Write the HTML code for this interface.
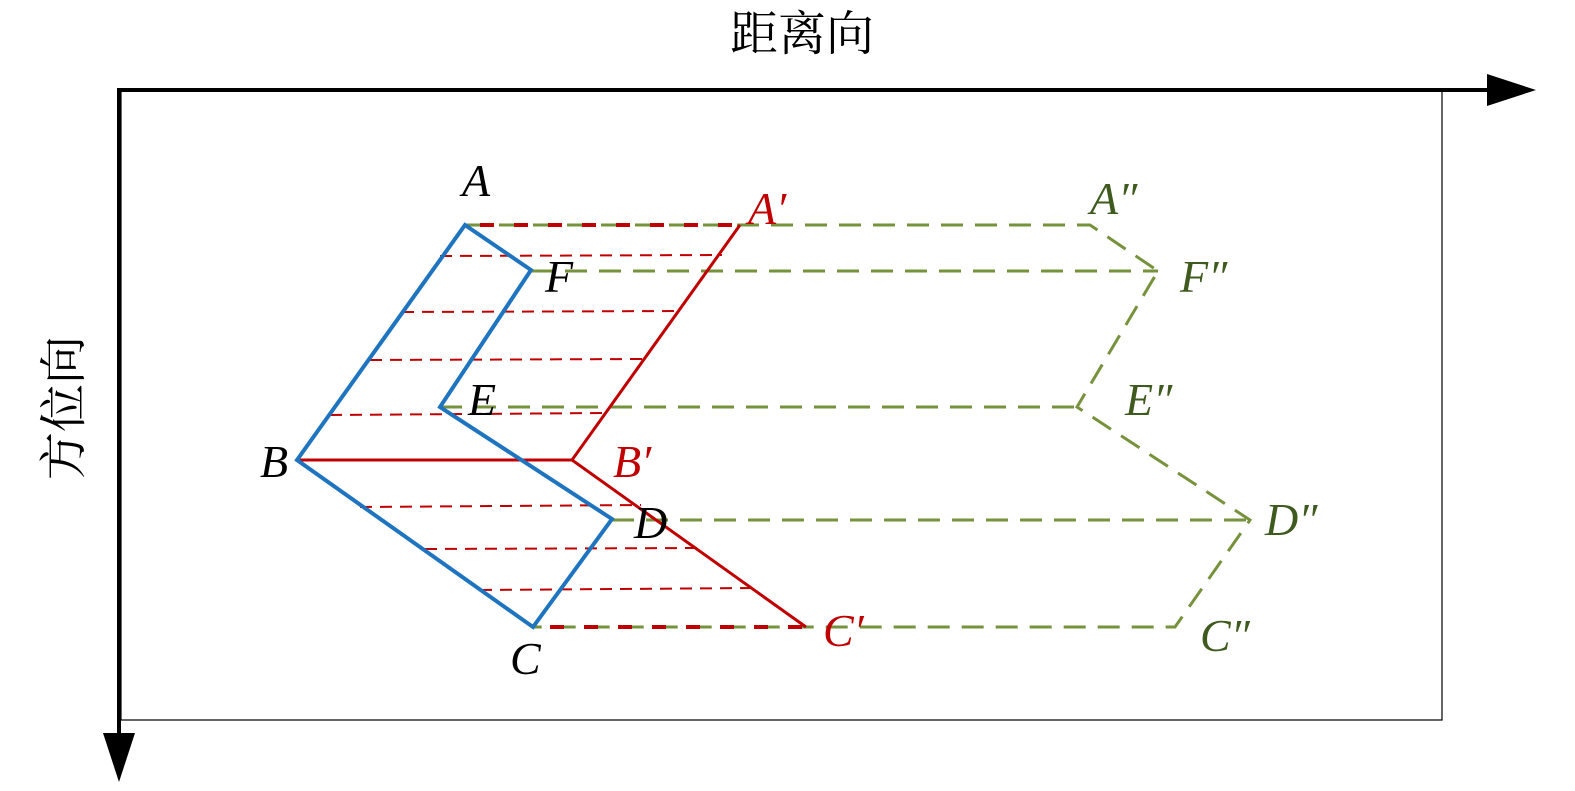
<!DOCTYPE html>
<html><head><meta charset="utf-8"><style>
html,body{margin:0;padding:0;background:#fff;}
svg{display:block;}
.l{font-family:"Liberation Serif",serif;font-style:italic;font-size:46px;}
</style></head><body>
<svg width="1575" height="791" viewBox="0 0 1575 791" xmlns="http://www.w3.org/2000/svg">
<rect x="121" y="91" width="1321" height="629" fill="none" stroke="#000" stroke-width="1.2"/>
<line x1="118" y1="90" x2="1490" y2="90" stroke="#000" stroke-width="4"/>
<polygon points="1487,74 1536,90 1487,106" fill="#000"/>
<line x1="119" y1="88" x2="119" y2="736" stroke="#000" stroke-width="4"/>
<polygon points="103,733 119,782 135,733" fill="#000"/>
<text x="802" y="50" font-family="'Liberation Serif','Noto Serif CJK SC',serif" font-size="48" text-anchor="middle">距离向</text>
<text transform="translate(80,408) rotate(-90)" font-family="'Liberation Serif','Noto Serif CJK SC',serif" font-size="48" text-anchor="middle">方位向</text>
<g stroke="#c00000" stroke-width="2" stroke-dasharray="12,8" fill="none">
<line x1="440" y1="256" x2="722" y2="255"/>
<line x1="402" y1="312" x2="682" y2="311"/>
<line x1="370" y1="360" x2="647" y2="359"/>
<line x1="330" y1="415" x2="607" y2="413"/>
<line x1="360" y1="507" x2="641" y2="505"/>
<line x1="425" y1="549" x2="700" y2="548"/>
<line x1="480" y1="590" x2="755" y2="588"/>
</g>
<g stroke="#76923c" stroke-width="3" stroke-dasharray="22,12" fill="none">
<polyline points="465,225 1090,225 1158,271 1077,407 1250,520 1175,627 533,627"/>
<line x1="531" y1="271" x2="1158" y2="271"/>
<line x1="440" y1="407" x2="1077" y2="407"/>
<line x1="612" y1="520" x2="1250" y2="520"/>
</g>
<g stroke="#c00000" stroke-width="4" stroke-dasharray="14,20" fill="none">
<line x1="480" y1="225" x2="740" y2="225"/>
<line x1="550" y1="627" x2="806" y2="627"/>
</g>
<polyline points="740,225 572,460 806,627" fill="none" stroke="#c00000" stroke-width="3"/>
<line x1="297" y1="460" x2="572" y2="460" stroke="#c00000" stroke-width="3"/>
<polygon points="465,225 531,270 440,407 612,519 533,627 297,460" fill="none" stroke="#1f74c0" stroke-width="4" stroke-linejoin="miter"/>
<g class="l" fill="#000">
<text x="462" y="196">A</text>
<text x="545" y="292">F</text>
<text x="468" y="415">E</text>
<text x="260" y="477">B</text>
<text x="634" y="538">D</text>
<text x="510" y="674">C</text>
</g>
<g class="l" fill="#c00000">
<text x="748" y="224">A′</text>
<text x="613" y="477">B′</text>
<text x="823" y="646">C′</text>
</g>
<g class="l" fill="#3f5a1e">
<text x="1090" y="214">A″</text>
<text x="1180" y="292">F″</text>
<text x="1125" y="415">E″</text>
<text x="1265" y="535">D″</text>
<text x="1200" y="651">C″</text>
</g>
</svg>
</body></html>
